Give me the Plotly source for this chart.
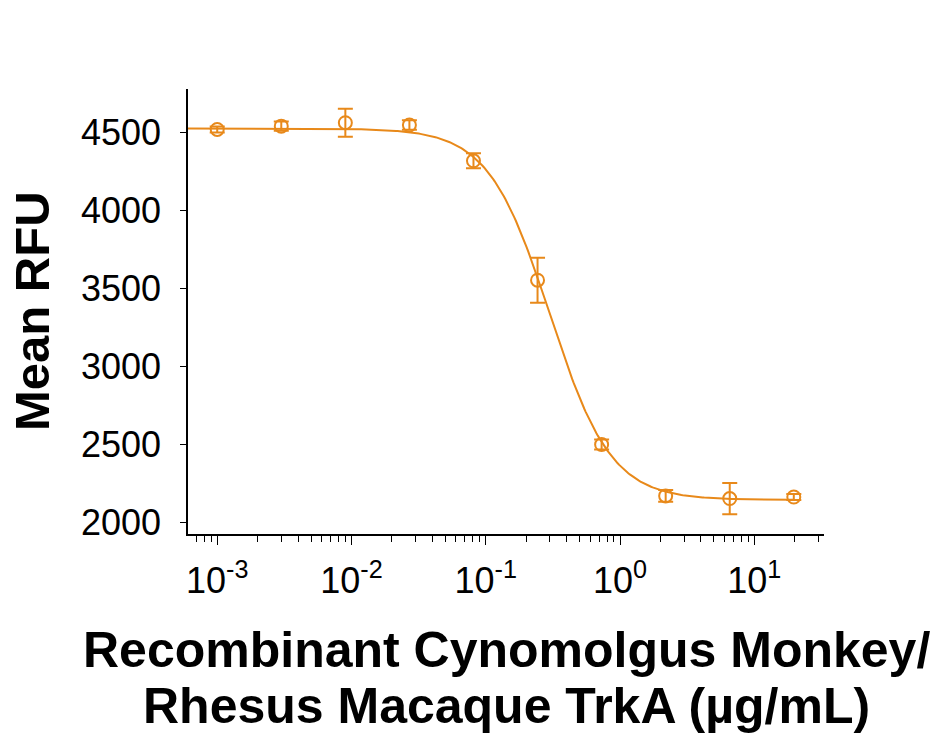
import numpy as np
import plotly.graph_objects as go

# ---- data ----
conc = [0.001, 0.003, 0.009, 0.027, 0.081, 0.243, 0.729, 2.187, 6.561, 19.683]  # µg/mL
mean_rfu = [4519, 4540, 4562, 4547, 4318, 3553, 2500, 2171, 2154, 2164]
err_rfu = [19, 29, 90, 30, 48, 144, 32, 38, 100, 19]

# 4-parameter logistic fit parameters
fit_top = 4525
fit_bottom = 2145
fit_ec50 = 0.30
fit_hill = 1.9

y_ticks = [2000, 2500, 3000, 3500, 4000, 4500]
x_tickvals = [1e-3, 1e-2, 1e-1, 1e0, 1e1]
x_ticktext = ["10<sup>-3</sup>", "10<sup>-2</sup>", "10<sup>-1</sup>", "10<sup>0</sup>", "10<sup>1</sup>"]

ORANGE = "#E8891A"
FONT = "Liberation Sans, Arial, sans-serif"

xc = np.logspace(-3.2176, np.log10(conc[-1]), 400)
yc = fit_bottom + (fit_top - fit_bottom) / (1 + (xc / fit_ec50) ** fit_hill)

minor_vals = [k * 10.0 ** e for e in range(-4, 2) for k in range(2, 10)]

fig = go.Figure()
fig.add_trace(go.Scatter(x=xc, y=yc, mode="lines",
                         line=dict(color=ORANGE, width=2), hoverinfo="skip",
                         showlegend=False))
fig.add_trace(go.Scatter(x=conc, y=mean_rfu, mode="markers",
                         marker=dict(symbol="circle-open", size=13, color=ORANGE,
                                     line=dict(width=2, color=ORANGE)),
                         error_y=dict(type="data", array=err_rfu, visible=True,
                                      color=ORANGE, thickness=2, width=7.5),
                         showlegend=False))

fig.update_layout(
    width=930, height=738,
    margin=dict(l=188, r=106, t=89, b=204),
    plot_bgcolor="white", paper_bgcolor="white",
    font=dict(family=FONT, color="black"),
    xaxis=dict(type="log", range=[-3.2176, 1.519],
               tickvals=x_tickvals, ticktext=x_ticktext,
               ticks="outside", ticklen=9, tickwidth=1, tickcolor="black",
               minor=dict(tickvals=minor_vals, ticks="outside", ticklen=6,
                          tickwidth=1, tickcolor="black", showgrid=False),
               showline=True, linecolor="black", linewidth=1.5,
               showgrid=False, zeroline=False,
               tickfont=dict(size=36, family=FONT, color="black"),
               ticklabelstandoff=5),
    yaxis=dict(range=[1927, 4778], tickvals=y_ticks,
               ticks="outside", ticklen=6, tickwidth=1, tickcolor="black",
               showline=True, linecolor="black", linewidth=1.5,
               showgrid=False, zeroline=False,
               tickfont=dict(size=36, family=FONT, color="black"),
               ticklabelstandoff=12),
)

fig.add_annotation(text="<b>Mean RFU</b>", textangle=-90, xref="paper", yref="paper",
                   x=(31.5 - 188) / 636, y=0.5, xanchor="center", yanchor="middle",
                   showarrow=False, font=dict(size=49, family=FONT, color="black"))
fig.add_annotation(text="<b>Recombinant Cynomolgus Monkey/</b>", xref="paper", yref="paper",
                   x=0.5, y=(534 - 650) / 445, xanchor="center", yanchor="middle",
                   showarrow=False, font=dict(size=50, family=FONT, color="black"))
fig.add_annotation(text="<b>Rhesus Macaque TrkA (µg/mL)</b>", xref="paper", yref="paper",
                   x=0.5, y=(534 - 706) / 445, xanchor="center", yanchor="middle",
                   showarrow=False, font=dict(size=50, family=FONT, color="black"))

fig.write_html("out.html")
